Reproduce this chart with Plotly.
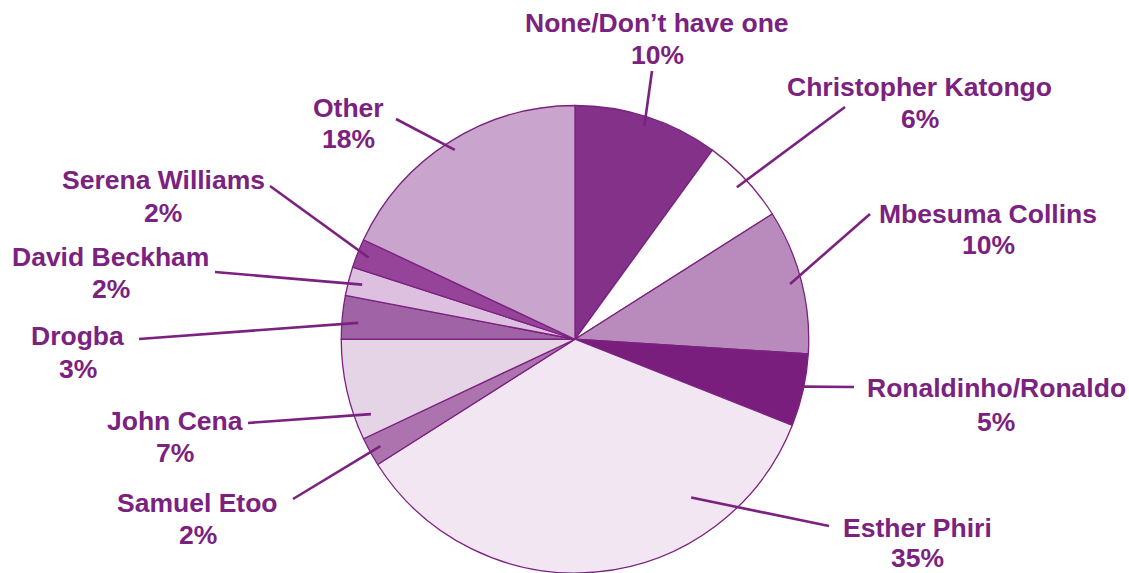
import math
import plotly.graph_objects as go

# ---- data ----
categories = ["None/Don\u2019t have one", "Christopher Katongo", "Mbesuma Collins",
              "Ronaldinho/Ronaldo", "Esther Phiri", "Samuel Etoo", "John Cena",
              "Drogba", "David Beckham", "Serena Williams", "Other"]
values = [10, 6, 10, 5, 35, 2, 7, 3, 2, 2, 18]
colors = ["#84318A", "#FFFFFF", "#B98BBD", "#7A1E7E", "#F1E6F1", "#AC73AF",
          "#E5D3E6", "#A063A5", "#DDC0DF", "#954499", "#C9A4CC"]

# ---- layout constants (page pixels) ----
W, H = 1129, 573
CX, CY, R = 575.0, 339.25, 233.75
TXT = "#7B2180"

# label layout: (name center x, name center y, pct center y, leader end x, leader end y,
#                position along slice 0..1, radius fraction of leader start)
label_layout = [
    (657, 23, 55.5, 652, 71, 0.5, 0.96),
    (919.5, 87, 118.5, 845, 107, 0.5, 0.95),
    (988, 213.5, 244.5, 870, 214, 0.5, 0.95),
    (996, 387.5, 421.5, 854, 387, 0.45, 1.0),
    (917, 528, 557.5, 829, 526, 0.255, 0.84),
    (197.5, 503, 535, 293, 499, 0.5, 0.95),
    (175, 421, 452.5, 248, 423, 0.2, 0.93),
    (77.5, 335.5, 368.5, 139, 339, 0.4, 0.93),
    (110.5, 256.5, 288.5, 215, 272, 0.5, 0.94),
    (163, 179.5, 212.5, 270, 186, 0.5, 0.95),
    (348.5, 108, 138.5, 396, 119, 0.5, 0.96),
]

def px(x):
    return x / W

def py(y):
    return 1 - y / H

fig = go.Figure(go.Pie(
    labels=categories,
    values=values,
    sort=False,
    direction="clockwise",
    rotation=0,
    textinfo="none",
    hoverinfo="label+percent",
    marker=dict(colors=colors, line=dict(color="#7B2180", width=1.3)),
    domain=dict(x=[px(CX - R), px(CX + R)], y=[max(0, py(CY + R)), py(CY - R)]),
    showlegend=False,
))

total = sum(values)
cum = 0.0
shapes = []
annotations = []
for cat, v, lay in zip(categories, values, label_layout):
    nx, ny, pyy, ex, ey, frac, rf = lay
    ang = (cum + v * frac) / total * 2 * math.pi
    cum += v
    sx = CX + R * rf * math.sin(ang)
    sy = CY - R * rf * math.cos(ang)
    shapes.append(dict(type="line", xref="paper", yref="paper",
                       x0=px(sx), y0=py(sy), x1=px(ex), y1=py(ey),
                       line=dict(color=TXT, width=2.6)))
    pct = f"{round(v / total * 100)}%"
    for txt, yy in ((cat, ny), (pct, pyy)):
        annotations.append(dict(text=f"<b>{txt}</b>", x=px(nx), y=py(yy),
                                xref="paper", yref="paper",
                                xanchor="center", yanchor="middle",
                                showarrow=False,
                                font=dict(family="Liberation Sans, Arial, sans-serif",
                                          size=26.5, color=TXT)))

fig.update_layout(
    width=W, height=H,
    margin=dict(l=0, r=0, t=0, b=0),
    paper_bgcolor="white",
    plot_bgcolor="white",
    shapes=shapes,
    annotations=annotations,
)

fig.write_html(
    "out.html",
    config={"displayModeBar": False},
    post_script="document.body.style.margin='0';document.body.style.overflow='hidden';",
)
